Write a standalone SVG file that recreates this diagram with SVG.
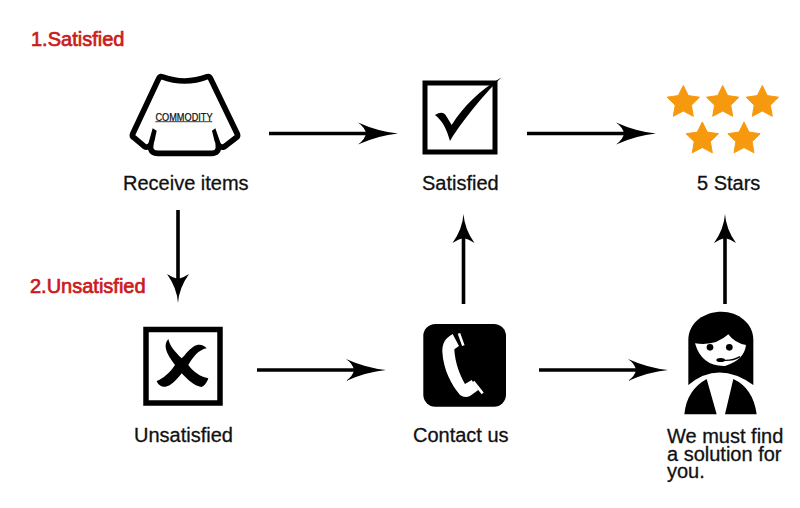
<svg xmlns="http://www.w3.org/2000/svg" width="800" height="508" viewBox="0 0 800 508">
<style>
text{font-family:"Liberation Sans",Arial,sans-serif;font-size:20px;fill:#111;stroke:#111;stroke-width:.3px}
.red{fill:#cc1a20;stroke:#cc1a20;stroke-width:.7px}
.h{stroke:#000;stroke-width:3.6;fill:none;marker-end:url(#headH)}
.v{stroke:#000;stroke-width:3.6;fill:none;marker-end:url(#headV)}
.ol{fill:none;stroke:#000;stroke-linejoin:round;stroke-linecap:round}
.star{fill:#f7990f;stroke:#f7990f;stroke-width:1;stroke-linejoin:round}
</style>
<defs>
<marker id="headH" markerUnits="userSpaceOnUse" markerWidth="42" markerHeight="26" viewBox="0 0 42 26" refX="20" refY="13" orient="auto"><path d="M40,13 Q20,11 0,2 Q7,7 8,13 Q7,19 0,24 Q20,15 40,13 Z" fill="#000"/></marker>
<marker id="headV" markerUnits="userSpaceOnUse" markerWidth="32" markerHeight="26" viewBox="0 0 32 26" refX="16" refY="13" orient="auto"><path d="M30,13 Q15,12 1,2 Q5,8 6,13 Q5,18 1,24 Q15,14 30,13 Z" fill="#000"/></marker>
<polygon id="s" class="star" points="0,-17 5,-6.88 16.2,-5.3 8.08,2.63 10,13.8 0,8.5 -10,13.8 -8.08,2.63 -16.2,-5.3 -5,-6.88"/>
</defs>
<rect width="800" height="508" fill="#fff"/>
<g id="connectors">
<line class="h" x1="269" y1="133.500" x2="378" y2="133.500"/>
<line class="h" x1="527" y1="133.500" x2="636" y2="133.500"/>
<line class="v" x1="178" y1="210" x2="178" y2="289"/>
<line class="h" x1="257" y1="370" x2="366" y2="370"/>
<line class="h" x1="539" y1="370" x2="648" y2="370"/>
<line class="v" x1="463.500" y1="304" x2="463.500" y2="228"/>
<line class="v" x1="725" y1="304" x2="725" y2="228"/>
</g>
<g id="label-satisfied-heading"><text class="red" x="31" y="45.500">1.Satisfied</text></g>
<g id="label-unsatisfied-heading"><text class="red" x="30" y="293">2.Unsatisfied</text></g>
<g id="receive-items">
<g transform="translate(110 60) scale(.3333)">
<path class="ol" stroke-width="17" d="M155,50 Q225,76 292,50 Q298,48 302,56 L382,222 Q385,230 378,233 L343,260 Q333,265 325,255 Q328,280 305,280 L145,280 Q118,280 122,255 Q112,265 104,260 L72,233 Q65,230 68,222 L146,56 Q150,48 155,50 Z"/>
<path d="M128,205 L140,212 Q135,240 128,262 L112,262 Z M316,205 L306,212 Q312,240 320,262 L336,262 Z" fill="#000"/>
<line x1="136" y1="185" x2="307" y2="185" stroke="#666" stroke-width="4"/>
</g>
<text x="155.500" y="120.500" style="font-size:10px;stroke-width:.25px" textLength="57" lengthAdjust="spacingAndGlyphs">COMMODITY</text>
<text x="123" y="190">Receive items</text>
</g>
<g id="satisfied">
<rect x="425" y="83" width="70" height="69" fill="none" stroke="#000" stroke-width="5"/>
<path transform="translate(400 60) scale(.3333)" d="M105,165 Q130,150 140,170 L155,195 C190,140 240,90 305,52 C265,90 195,170 150,243 C140,205 125,180 105,165 Z" fill="#000"/>
<text x="422" y="190">Satisfied</text>
</g>
<g id="stars">
<use href="#s" x="683.300" y="102.500"/>
<use href="#s" x="722.700" y="102.500"/>
<use href="#s" x="762.300" y="102.500"/>
<use href="#s" x="702.300" y="139"/>
<use href="#s" x="744" y="139"/>
<text x="697" y="190">5 Stars</text>
</g>
<g id="unsatisfied">
<rect x="146" y="329.500" width="74" height="73.500" fill="none" stroke="#000" stroke-width="5.500"/>
<path transform="translate(130 315) scale(.3333)" d="M115,72 C100,90 105,110 135,150 C118,175 100,190 80,198 C85,212 100,222 120,210 C135,200 148,185 155,175 C175,195 190,212 215,216 C225,212 232,200 235,190 C210,185 190,170 175,150 C190,125 205,105 230,100 C220,88 205,85 190,95 C175,105 165,120 155,130 C135,110 120,95 115,72 Z" fill="#000"/>
<text x="134" y="442">Unsatisfied</text>
</g>
<g id="contact-us">
<rect x="423.300" y="324" width="82.700" height="82.700" rx="12" fill="#000"/>
<g transform="translate(410 310) scale(.3333)">
<path d="M128,72 C105,85 97,100 97,125 C100,180 125,225 150,255 Q165,266 180,258 L205,240 L185,210 L165,222 C150,195 135,160 133,118 L147,108 Z" fill="#fff"/>
<path d="M147,70 L160,107 M190,215 L218,250" stroke="#fff" stroke-width="8" fill="none"/>
</g>
<text x="413" y="442">Contact us</text>
</g>
<g id="agent">
<g transform="translate(675 305) scale(.3333)">
<path d="M40,240 L40,105 C40,50 90,20 140,20 C190,20 235,55 235,105 L235,240 Z" fill="#000"/>
<path d="M40,240 Q130,165 235,240 L235,330 L40,330 Z" fill="#fff"/>
<path d="M28,328 Q35,255 95,222 L125,328 Z M150,328 L175,222 Q235,250 245,328 Z" fill="#000"/>
<path d="M60,115 Q120,125 160,88 Q180,115 213,120 Q208,165 150,183 Q80,185 60,115 Z" fill="#fff"/>
<circle cx="105" cy="127" r="10" fill="#000"/>
<circle cx="163" cy="127" r="10" fill="#000"/>
<path d="M195,155 Q170,170 135,165" fill="none" stroke="#000" stroke-width="4"/>
<ellipse cx="137" cy="165" rx="13" ry="6" fill="#000"/>
</g>
<text x="667" y="442.500">We must find<tspan x="667" y="460.500">a solution for</tspan><tspan x="667" y="478">you.</tspan></text>
</g>
</svg>
